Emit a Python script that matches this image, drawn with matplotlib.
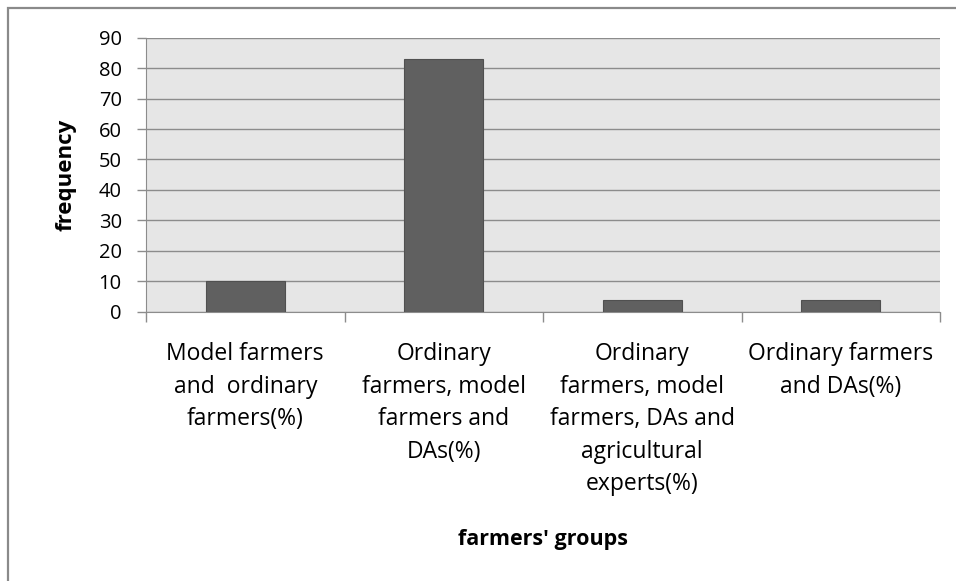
import matplotlib.pyplot as plt
from matplotlib.patches import Rectangle

# dane
groups = [
    "Model farmers\nand  ordinary\nfarmers(%)",
    "Ordinary\nfarmers, model\nfarmers and\nDAs(%)",
    "Ordinary\nfarmers, model\nfarmers, DAs and\nagricultural\nexperts(%)",
    "Ordinary farmers\nand DAs(%)",
]
frequency = [10, 83, 4, 4]
y_ticks = list(range(0, 91, 10))

plt.rcParams["font.family"] = ["Open Sans", "DejaVu Sans"]

fig = plt.figure(figsize=(9.56, 5.81), dpi=100)
ax = fig.add_axes([146 / 956, 1 - 311.7 / 581, (940 - 146) / 956, (311.7 - 37.7) / 581])

# ramka wokol calego wykresu (obcieta z prawej i z dolu)
fig.patches.append(Rectangle((8 / 956, -0.2), 1.2, 1.2 - 8 / 581,
                             transform=fig.transFigure, fill=False,
                             edgecolor="#8a8a8a", linewidth=1.6))

x = range(len(groups))
ax.set_facecolor("#e6e6e6")
ax.bar(x, frequency, width=0.4, color="#606060", edgecolor="#505050", linewidth=0.8, zorder=3)

ax.set_xlim(-0.5, 3.5)
ax.set_ylim(0, 90)
ax.set_yticks(y_ticks)
ax.yaxis.grid(True, color="#8c8c8c", linewidth=1.0, zorder=1)
ax.set_axisbelow(True)

for s in ["top", "right"]:
    ax.spines[s].set_visible(False)
ax.spines["left"].set_color("#8c8c8c")
ax.spines["bottom"].set_color("#8c8c8c")

# znaczniki osi x na granicach kategorii
ax.set_xticks([-0.5, 0.5, 1.5, 2.5, 3.5])
ax.set_xticklabels([])
ax.tick_params(axis="x", which="major", length=7.5, color="#8c8c8c", width=1.0)
ax.set_xticks(list(x), minor=True)
ax.set_xticklabels(groups, minor=True, fontsize=16.5, linespacing=1.47, va="top")
ax.tick_params(axis="x", which="minor", length=0, pad=22)
ax.tick_params(axis="y", length=6.5, color="#8c8c8c", width=1.0, labelsize=14.5, pad=11)

ax.set_ylabel("frequency", fontsize=16, fontweight="bold", labelpad=16)
ax.set_xlabel("farmers' groups", fontsize=15.5, fontweight="bold", labelpad=24)

plt.savefig("out.png", dpi=100)
